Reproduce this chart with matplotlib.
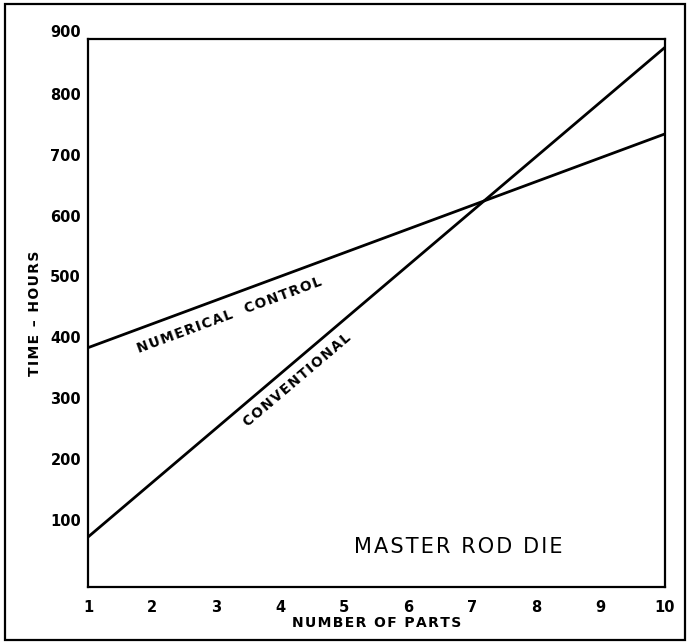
import matplotlib
matplotlib.use('Agg')
import matplotlib.pyplot as plt
from matplotlib.patches import Rectangle

# Data
parts = [1, 10]
conventional = [72, 876]
numerical_control = [383, 734]
x_ticks = [1, 2, 3, 4, 5, 6, 7, 8, 9, 10]
y_ticks = [100, 200, 300, 400, 500, 600, 700, 800, 900]


def spaced(s, gap='\u200a'):
    # lettering in the original is widely spaced
    return gap.join(s)


fig = plt.figure(figsize=(6.9, 6.44), dpi=100)
ax = fig.add_axes([0.1275, 0.0885, 0.836, 0.851])

ax.plot(parts, conventional, color='black', lw=2.0, solid_capstyle='butt')
ax.plot(parts, numerical_control, color='black', lw=2.0, solid_capstyle='butt')

ax.set_xticks(x_ticks)
ax.set_yticks(y_ticks[:-1])
ax.set_xlim(1, 10)
ax.set_ylim(-10, 890)
ax.tick_params(length=0, labelsize=10.5)
ax.tick_params(axis='x', pad=9)
ax.tick_params(axis='y', pad=5)
for lbl in ax.get_xticklabels() + ax.get_yticklabels():
    lbl.set_fontweight('bold')
# the top label (900) sits just above the frame in the original
ax.annotate(str(y_ticks[-1]), xy=(0, y_ticks[-1]), xycoords=ax.get_yaxis_transform(),
            xytext=(-5, 0), textcoords='offset points', ha='right', va='center',
            fontsize=10.5, fontweight='bold', annotation_clip=False)
for s in ax.spines.values():
    s.set_linewidth(1.6)

ax.set_xlabel(spaced('NUMBER OF PARTS'), fontsize=10, fontweight='bold',
              labelpad=1)
ax.set_ylabel(spaced('TIME \u2013 HOURS'), fontsize=10, fontweight='bold',
              labelpad=6)

ax.text(3.21, 437, spaced('NUMERICAL  CONTROL'), rotation=20.3, fontsize=9.8,
        fontweight='bold', ha='center', va='center', rotation_mode='anchor')
ax.text(4.26, 330, spaced('CONVENTIONAL'), rotation=40.3, fontsize=9.8,
        fontweight='bold', ha='center', va='center', rotation_mode='anchor')
ax.text(6.77, 56, spaced('MASTER ROD DIE'), fontsize=15, ha='center',
        va='center')

# outer border of the figure
fig.patches.append(Rectangle((5 / 690, 4 / 644), 680 / 690, 636 / 644,
                             transform=fig.transFigure, fill=False,
                             edgecolor='black', lw=1.6))

fig.savefig('out.png', dpi=100)
